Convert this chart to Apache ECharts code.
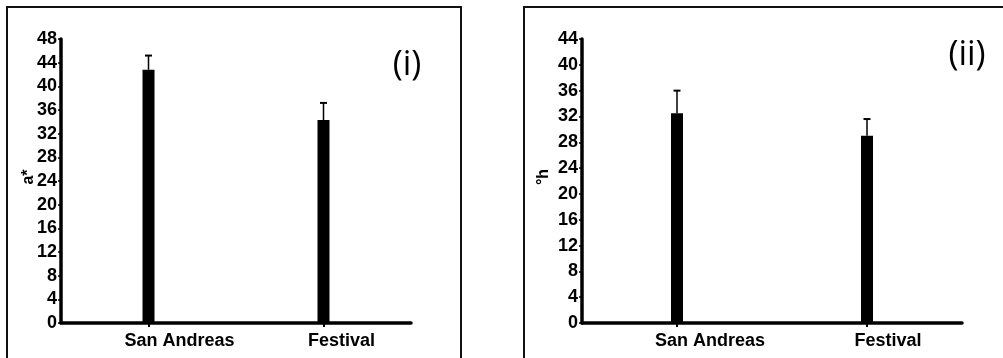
<!DOCTYPE html>
<html>
<head>
<meta charset="utf-8">
<script src="https://cdn.jsdelivr.net/npm/echarts@6/dist/echarts.min.js"></script>
<style>html,body{margin:0;padding:0;background:#fff;}#c{width:1003px;height:358px;}</style>
</head>
<body>
<div id="c"></div>
<script>
var categories = ['San Andreas', 'Festival'];
var aMeans = [42.8, 34.3];
var aUpper = [45.2, 37.2];
var hMeans = [32.5, 29.0];
var hUpper = [36.0, 31.6];
var aTicks = {min: 0, max: 48, interval: 4};
var hTicks = {min: 0, max: 44, interval: 4};

var FONT = '"Liberation Sans", Arial, sans-serif';

function errItem(params, api) {
  var x = api.value(0), top = api.value(1), base = api.value(2);
  var p1 = api.coord([x, base]);
  var p2 = api.coord([x, top]);
  var hw = 3.5;
  return {
    type: 'group',
    children: [
      {type: 'line', shape: {x1: p1[0], y1: p1[1], x2: p2[0], y2: p2[1]}, style: {stroke: '#000', lineWidth: 1.5}},
      {type: 'line', shape: {x1: p2[0] - hw, y1: p2[1], x2: p2[0] + hw, y2: p2[1]}, style: {stroke: '#000', lineWidth: 2}}
    ]
  };
}

function xAxisCfg(idx, padA, padB) {
  var lbl = {color: '#000', fontFamily: FONT, fontWeight: 'bold', fontSize: 18};
  return {
    type: 'category', gridIndex: idx, data: categories,
    axisLine: {lineStyle: {color: '#000', width: 3.5}},
    axisTick: {show: true, alignWithLabel: true, length: 4, lineStyle: {color: '#000', width: 2}},
    axisLabel: {
      margin: 9,
      formatter: function (v, i) { return (i === 0 ? '{a|' : '{b|') + v + '}'; },
      rich: {
        a: Object.assign({padding: [0, 0, 0, padA]}, lbl),
        b: Object.assign({padding: [0, 0, 0, padB]}, lbl)
      }
    },
    splitLine: {show: false}
  };
}
function yAxisCfg(idx, t, name, gap) {
  return {
    type: 'value', gridIndex: idx, min: t.min, max: t.max, interval: t.interval,
    name: name, nameLocation: 'middle', nameRotate: 90, nameGap: gap, nameMoveOverlap: false,
    nameTextStyle: {color: '#000', fontFamily: FONT, fontWeight: 'bold', fontSize: 16, padding: [0, 0, 0, 8]},
    axisLine: {show: true, lineStyle: {color: '#000', width: 3.5}},
    axisTick: {show: true, length: 3, lineStyle: {color: '#000', width: 1.5}},
    axisLabel: {color: '#000', fontFamily: FONT, fontWeight: 'bold', fontSize: 18, margin: 4},
    splitLine: {show: false}
  };
}

var chart = echarts.init(document.getElementById('c'));
chart.setOption({
  animation: false,
  backgroundColor: '#fff',
  grid: [
    {left: 61, right: 592, top: 39, bottom: 35},
    {left: 582, right: 41, top: 39, bottom: 35}
  ],
  xAxis: [xAxisCfg(0, 62, 36), xAxisCfg(1, 66, 42)],
  yAxis: [yAxisCfg(0, aTicks, 'a*', 24), yAxisCfg(1, hTicks, '°h', 30)],
  graphic: [
    {type: 'rect', shape: {x: 7, y: 7, width: 454, height: 420}, style: {fill: 'none', stroke: '#111', lineWidth: 2}, silent: true},
    {type: 'rect', shape: {x: 524, y: 7, width: 520, height: 420}, style: {fill: 'none', stroke: '#111', lineWidth: 2}, silent: true},
    {type: 'text', x: 407, y: 65, style: {text: '(i)', font: '34px "Open Sans", sans-serif', fill: '#000', align: 'center', verticalAlign: 'middle'}},
    {type: 'text', x: 967, y: 55, style: {text: '(ii)', font: '34px "Open Sans", sans-serif', fill: '#000', align: 'center', verticalAlign: 'middle'}}
  ],
  series: [
    {type: 'bar', xAxisIndex: 0, yAxisIndex: 0, data: aMeans, barWidth: 12, itemStyle: {color: '#000'}, z: 2},
    {type: 'bar', xAxisIndex: 1, yAxisIndex: 1, data: hMeans, barWidth: 12, itemStyle: {color: '#000'}, z: 2},
    {type: 'custom', xAxisIndex: 0, yAxisIndex: 0, renderItem: errItem, z: 3,
      data: categories.map(function (c, i) { return [i, aUpper[i], aMeans[i]]; })},
    {type: 'custom', xAxisIndex: 1, yAxisIndex: 1, renderItem: errItem, z: 3,
      data: categories.map(function (c, i) { return [i, hUpper[i], hMeans[i]]; })}
  ]
});
</script>
</body>
</html>
